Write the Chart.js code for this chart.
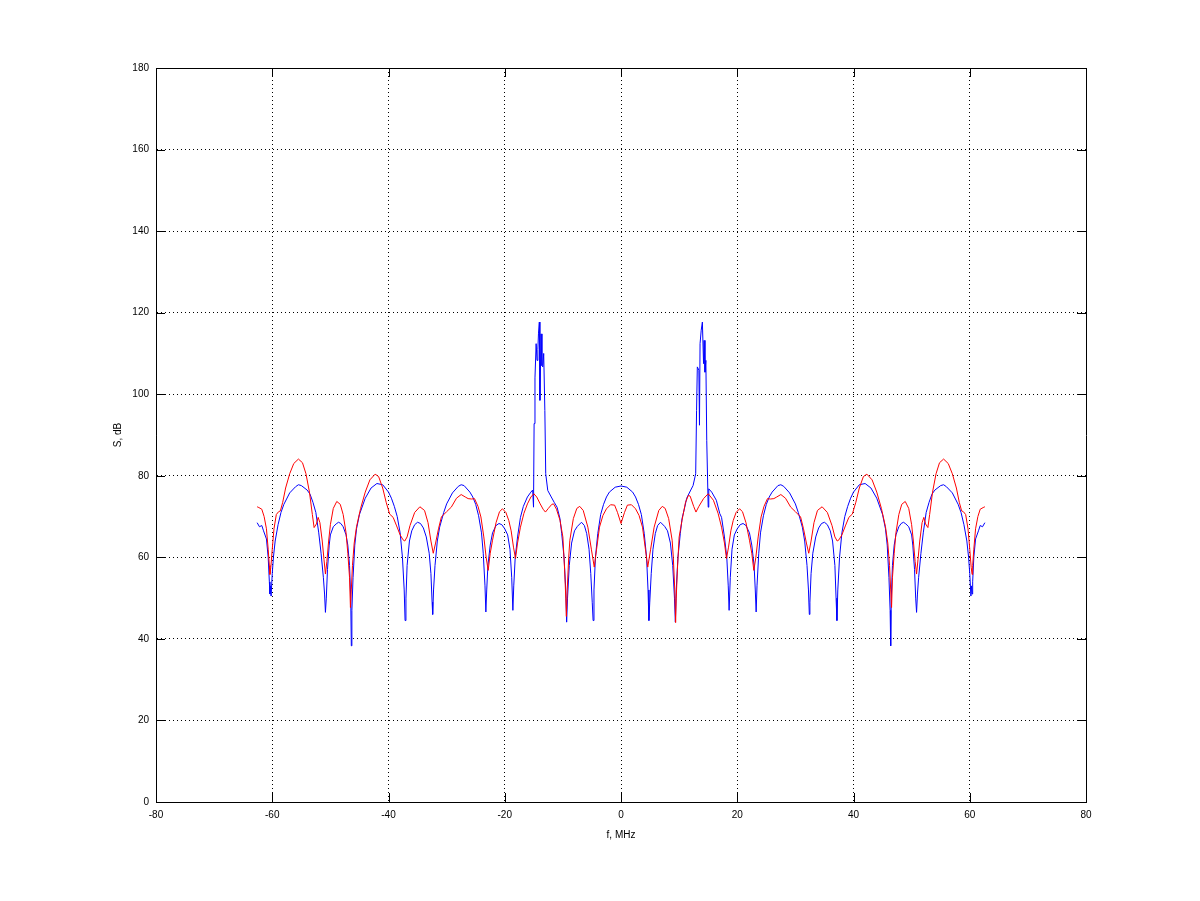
<!DOCTYPE html>
<html>
<head>
<meta charset="utf-8">
<script src="https://cdn.jsdelivr.net/npm/chart.js@4/dist/chart.umd.min.js"></script>
<style>
  html, body { margin: 0; padding: 0; background: #fff; }
  #wrap { width: 1200px; height: 901px; }
</style>
</head>
<body>
<div id="wrap"><canvas id="spectrum"></canvas></div>
<script>
// blue trace (f in MHz, S in dB)
var freqBlue = [-62.6, -62.2, -61.8, -61.5, -61.0, -60.7, -60.5, -60.4, -60.3, -60.2, -60.0, -59.8, -59.5, -59.0, -58.5, -58.0, -57.0, -56.0, -55.5, -55.0, -54.0, -53.5, -53.0, -52.5, -52.0, -51.6, -51.2, -51.0, -50.85, -50.7, -50.5, -50.2, -50.0, -49.5, -49.0, -48.6, -48.2, -47.8, -47.3, -47.0, -46.7, -46.5, -46.4, -46.3, -46.1, -45.8, -45.5, -45.0, -44.0, -43.0, -42.0, -41.0, -40.0, -39.5, -39.0, -38.5, -38.0, -37.6, -37.3, -37.15, -37.0, -36.8, -36.4, -36.0, -35.5, -35.0, -34.5, -34.0, -33.5, -33.0, -32.7, -32.5, -32.4, -32.25, -32.0, -31.6, -31.2, -30.5, -30.0, -29.0, -28.0, -27.5, -27.0, -26.0, -25.5, -25.0, -24.5, -24.0, -23.7, -23.4, -23.25, -23.1, -22.9, -22.5, -22.1, -21.5, -21.0, -20.5, -20.0, -19.5, -19.1, -18.8, -18.6, -18.45, -18.2, -17.8, -17.3, -16.8, -16.1, -15.5, -15.2, -15.05, -14.95, -14.8, -14.6, -14.45, -14.3, -14.2, -14.05, -13.95, -13.75, -13.6, -13.45, -13.3, -13.1, -12.95, -12.6, -12.0, -11.5, -11.0, -10.5, -10.2, -9.8, -9.5, -9.35, -9.2, -8.9, -8.5, -8.0, -7.5, -6.8, -6.3, -5.9, -5.5, -5.2, -4.95, -4.8, -4.65, -4.4, -4.0, -3.5, -3.0, -2.5, -2.0, -1.0, 0,
  1.0, 2.0, 2.5, 3.0, 3.5, 4.0, 4.4, 4.65, 4.8, 4.95, 5.2, 5.5, 5.9, 6.3, 6.8, 7.5, 8.0, 8.5, 8.9, 9.2, 9.35, 9.5, 9.8, 10.2, 10.5, 11.0, 11.3, 12.0, 12.4, 12.85, 13.0, 13.13, 13.4, 13.5, 13.6, 13.8, 14.0, 14.2, 14.3, 14.45, 14.6, 14.75, 15.0, 15.1, 15.6, 16.4, 17.0, 17.3, 17.8, 18.2, 18.45, 18.6, 18.8, 19.1, 19.5, 20.0, 20.5, 21.0, 21.5, 22.1, 22.5, 22.9, 23.1, 23.25, 23.4, 23.7, 24.0, 24.5, 25.0, 25.5, 26.0, 27.0, 27.5, 28.0, 29.0, 30.0, 30.5, 31.2, 31.6, 32.0, 32.25, 32.4, 32.5, 32.7, 33.0, 33.5, 34.0, 34.5, 35.0, 35.5, 36.0, 36.4, 36.8, 37.0, 37.15, 37.3, 37.6, 38.0, 38.5, 39.0, 39.5, 40.0, 41.0, 42.0, 43.0, 44.0, 45.0, 45.5, 45.8, 46.1, 46.3, 46.4, 46.5, 46.7, 47.0, 47.3, 47.8, 48.2, 48.6, 49.0, 49.5, 50.0, 50.2, 50.5, 50.7, 50.85, 51.0, 51.2, 51.6, 52.0, 52.5, 53.0, 53.5, 54.0, 55.0, 55.5, 56.0, 57.0, 58.0, 58.5, 59.0, 59.5, 59.8, 60.0, 60.2, 60.3, 60.4, 60.5, 60.7, 61.0, 61.5, 61.8, 62.2, 62.6];
var sBlue = [68.5, 67.5, 67.8, 66.5, 64.5, 60, 54, 51, 53, 50.5, 56, 60, 64, 68, 71, 73, 75.8, 77.3, 77.8, 77.6, 76.5, 75.5, 73.5, 71, 66, 61, 55, 51, 46.5, 50, 57, 63, 65.5, 67.5, 68.2, 68.6, 68.3, 67.5, 65.5, 63, 58, 50, 38.3, 47, 55, 63, 67, 70.5, 74.5, 77, 78.1, 77.8, 76, 74.5, 72.5, 70, 66, 60, 52, 44.5, 50, 58, 64, 66.5, 68, 68.6, 68.3, 67.2, 65, 61, 56, 49, 46, 52, 58, 64, 67.4, 71, 73.1, 75.8, 77.4, 77.8, 77.6, 76, 74.8, 73, 70.2, 66, 61, 53, 46.6, 52, 58, 63, 66, 67.8, 68.3, 68, 67, 65.5, 62, 55, 47, 53, 60, 65, 69.8, 72.5, 74.8, 76, 76.5, 72.3, 92.8, 104, 112.4, 108.3, 111, 114.8, 117.7, 98.5, 114.8, 107, 106.7, 110, 96, 80.5, 76.4, 74.8, 73.5, 72.3, 69.5, 65.8, 60, 52, 44.1, 50, 58, 63.5, 66.5, 67.6, 68.6, 67.8, 65.8, 62, 56, 49, 44.5, 52, 60, 65.8, 70.5, 73, 74.8, 76, 77.2, 77.5,
  77.2, 76, 74.8, 73, 70.5, 65.8, 60, 52, 44.5, 49, 56, 62, 65.8, 67.8, 68.6, 67.6, 66.5, 63.5, 58, 50, 44.1, 52, 60, 65.8, 69.5, 72.5, 74.5, 76.5, 77.6, 80.5, 96, 106.7, 105.9, 92.4, 112.4, 115.7, 117.7, 107.5, 113.2, 105.4, 108.3, 88.7, 72.3, 76.8, 76, 74, 70.7, 69.8, 65, 60, 53, 47, 55, 62, 65.5, 67, 68, 68.3, 67.8, 66, 63, 58, 52, 46.6, 53, 61, 66, 70.2, 73, 74.8, 76, 77.6, 77.8, 77.4, 75.8, 73.1, 71, 67.4, 64, 58, 52, 46, 49, 56, 61, 65, 67.2, 68.3, 68.6, 68, 66.5, 64, 58, 50, 44.5, 52, 60, 66, 70, 72.5, 74.5, 76, 77.8, 78.1, 77, 74.5, 70.5, 67, 63, 55, 47, 38.3, 50, 58, 63, 65.5, 67.5, 68.3, 68.6, 68.2, 67.5, 65.5, 63, 57, 50, 46.5, 51, 55, 61, 66, 71, 73.5, 75.5, 76.5, 77.6, 77.8, 77.3, 75.8, 73, 71, 68, 64, 60, 56, 50.5, 53, 51, 54, 60, 64.5, 66.5, 67.8, 67.5, 68.5];

// red trace
var freqRed = [-62.6, -62.3, -61.8, -61.4, -61.0, -60.7, -60.5, -60.4, -60.25, -60.0, -59.7, -59.3, -58.9, -58.6, -58.2, -57.7, -57.0, -56.3, -55.5, -54.8, -54.2, -53.6, -53.1, -52.8, -52.4, -52.1, -51.8, -51.4, -51.1, -50.85, -50.6, -50.3, -50.0, -49.5, -48.9, -48.3, -47.8, -47.3, -47.0, -46.7, -46.55, -46.4, -46.2, -45.9, -45.5, -44.8, -44.0, -43.2, -42.3, -41.7, -41.0, -40.4, -39.8, -39.2, -38.6, -38.0, -37.5, -37.2, -36.8, -36.3, -35.5, -34.6, -33.8, -33.2, -32.7, -32.3, -31.9, -31.4, -30.9, -30.0, -29.2, -28.3, -27.5, -26.8, -26.3, -25.7, -25.2, -24.6, -24.1, -23.6, -23.2, -22.85, -22.5, -22.1, -21.5, -20.9, -20.4, -19.8, -19.3, -18.9, -18.5, -18.15, -17.8, -17.3, -16.7, -16.1, -15.5, -15.0, -14.5, -13.9, -13.4, -13.0, -12.5, -11.9, -11.6, -11.1, -10.5, -10.0, -9.7, -9.5, -9.4, -9.25, -9.0, -8.8, -8.2, -7.6, -7.1, -6.5, -5.7, -5.1, -4.6, -4.2, -3.7, -3.1, -2.5, -1.8, -1.1, -0.6, 0,
  0.6, 1.1, 1.8, 2.5, 3.1, 3.7, 4.2, 4.6, 5.1, 5.7, 6.5, 7.1, 7.6, 8.2, 8.8, 9.0, 9.25, 9.4, 9.5, 9.7, 10.0, 10.5, 11.1, 11.6, 11.9, 12.5, 12.9, 13.4, 14.2, 15.0, 15.9, 16.7, 17.3, 17.8, 18.15, 18.5, 18.9, 19.3, 19.8, 20.4, 20.9, 21.5, 22.1, 22.5, 22.85, 23.2, 23.6, 24.1, 24.6, 25.2, 25.7, 26.3, 26.8, 27.5, 28.3, 29.2, 30.0, 30.9, 31.4, 31.9, 32.3, 32.7, 33.2, 33.8, 34.6, 35.5, 36.3, 36.8, 37.2, 37.5, 38.0, 38.6, 39.2, 39.8, 40.4, 41.0, 41.7, 42.3, 43.2, 44.0, 44.8, 45.5, 45.9, 46.2, 46.4, 46.55, 46.7, 47.0, 47.3, 47.8, 48.3, 48.9, 49.5, 50.0, 50.3, 50.6, 50.85, 51.1, 51.4, 51.8, 52.1, 52.4, 52.8, 53.1, 53.6, 54.2, 54.8, 55.5, 56.3, 57.0, 57.7, 58.2, 58.6, 58.9, 59.3, 59.7, 60.0, 60.25, 60.4, 60.5, 60.7, 61.0, 61.4, 61.8, 62.3, 62.6];
var sRed = [72.4, 72.2, 71.8, 70, 67, 62, 58, 55.8, 57.5, 62, 67, 70.5, 71.2, 71.4, 73.5, 77, 80.5, 83, 84.1, 83.2, 80.5, 76, 70.5, 67.3, 68.2, 69.8, 68.5, 64, 59.5, 55.9, 59, 64, 68, 72, 73.7, 73, 70.5, 66, 61, 55, 47.7, 52, 58, 63.5, 67.5, 72, 76, 79, 80.4, 79.8, 77, 73.5, 70.6, 69.8, 67.7, 65.5, 64.3, 64, 65, 67.8, 71, 72.4, 71.5, 68.5, 64, 61, 63.5, 67, 69.9, 71.2, 72.3, 74.5, 75.4, 74.8, 74.4, 74.3, 74.4, 72.5, 69.9, 65, 60, 56.8, 61, 64.2, 68.5, 71.2, 71.9, 71, 69, 66.5, 62.5, 59.7, 63.5, 67.4, 70.8, 73.1, 74.8, 75.6, 74.8, 73.1, 71.8, 71.1, 72, 73, 73.1, 71.8, 69.1, 65, 57, 50, 45.5, 52, 60, 64.2, 69.5, 72, 72.5, 71.5, 67.4, 62, 57.6, 62, 67.4, 70.3, 71.9, 72.9, 72.8, 71, 68.3,
  71, 72.8, 72.9, 71.9, 70.3, 67.4, 62, 57.6, 62, 67.4, 71.5, 72.5, 72, 69.5, 64.2, 60, 52, 44, 50, 57, 65, 69.1, 73.5, 75.2, 75, 72.5, 71.1, 72.5, 74.4, 75.6, 74, 70.8, 67.4, 63.5, 59.7, 62.5, 66.5, 69, 71, 71.9, 71.2, 68.5, 64.2, 61, 56.8, 60, 65, 69.9, 72.5, 74.4, 74.3, 74.4, 74.8, 75.4, 74.5, 72.3, 71.2, 69.9, 67, 63.5, 61, 64, 68.5, 71.5, 72.4, 71, 67.8, 65, 64, 64.3, 65.5, 67.7, 69.8, 70.6, 73.5, 77, 79.8, 80.4, 79, 76, 72, 67.5, 63.5, 58, 52, 47.7, 55, 61, 66, 70.5, 73, 73.7, 72, 68, 64, 59, 55.9, 59.5, 64, 68.5, 69.8, 68.2, 67.3, 70.5, 76, 80.5, 83.2, 84.1, 83, 80.5, 77, 73.5, 71.4, 71.2, 70.5, 67, 62, 57.5, 55.8, 58, 62, 67, 70, 71.8, 72.2, 72.4];

var xTicks = [-80, -60, -40, -20, 0, 20, 40, 60, 80];
var yTicks = [0, 20, 40, 60, 80, 100, 120, 140, 160, 180];

function pts(xs, ys) {
    return xs.map(function (x, i) { return { x: x, y: ys[i] }; });
}

var tickFont = { family: 'Liberation Sans', size: 10 };

// box round the plot and inward tick marks on all four sides
var frame = {
    id: 'frame',
    afterDraw: function (chart) {
        var ctx = chart.ctx, a = chart.chartArea;
        var xs = chart.scales.x, ys = chart.scales.y;
        var L = 9;
        ctx.save();
        ctx.strokeStyle = '#000';
        ctx.lineWidth = 1;
        ctx.beginPath();
        ctx.rect(Math.round(a.left) + 0.5, Math.round(a.top) + 0.5, Math.round(a.right - a.left), Math.round(a.bottom - a.top));
        xTicks.forEach(function (t) {
            var p = Math.round(xs.getPixelForValue(t)) + 0.5;
            ctx.moveTo(p, a.bottom); ctx.lineTo(p, a.bottom - L);
            ctx.moveTo(p, a.top); ctx.lineTo(p, a.top + L);
        });
        yTicks.forEach(function (t) {
            var p = Math.round(ys.getPixelForValue(t)) + 0.5;
            ctx.moveTo(a.left, p); ctx.lineTo(a.left + L, p);
            ctx.moveTo(a.right, p); ctx.lineTo(a.right - L, p);
        });
        ctx.stroke();
        ctx.restore();
    }
};

var ctx = document.getElementById('spectrum').getContext('2d');
var myChart = new Chart(ctx, {
    type: 'line',
    data: {
        datasets: [{
            label: 'red',
            data: pts(freqRed, sRed),
            borderColor: '#ff0000',
            borderWidth: 1,
            pointRadius: 0,
            tension: 0,
            order: 1
        }, {
            label: 'blue',
            data: pts(freqBlue, sBlue),
            borderColor: '#0000ff',
            borderWidth: 1,
            pointRadius: 0,
            tension: 0,
            order: 2
        }]
    },
    options: {
        responsive: true,
        maintainAspectRatio: false,
        animation: false,
        layout: { padding: { left: 98, right: 114, top: 68, bottom: 59 } },
        plugins: { legend: { display: false }, tooltip: { enabled: false } },
        scales: {
            x: {
                type: 'linear',
                min: -80,
                max: 80,
                afterBuildTicks: function (s) { s.ticks = xTicks.map(function (v) { return { value: v }; }); },
                afterFit: function (s) { s.height = 40; s.paddingLeft = 0; s.paddingRight = 0; },
                ticks: { color: '#000', font: tickFont, padding: 7, maxRotation: 0 },
                grid: { color: '#000', lineWidth: 1, drawTicks: false },
                border: { display: true, color: '#000', dash: [1, 3] },
                title: { display: true, text: 'f, MHz', color: '#000', font: tickFont, padding: { top: 0, bottom: 1 } }
            },
            y: {
                type: 'linear',
                min: 0,
                max: 180,
                afterBuildTicks: function (s) { s.ticks = yTicks.map(function (v) { return { value: v }; }); },
                afterFit: function (s) { s.width = 58; s.paddingTop = 0; s.paddingBottom = 0; },
                ticks: { color: '#000', font: tickFont, padding: 7 },
                grid: { color: '#000', lineWidth: 1, drawTicks: false },
                border: { display: true, color: '#000', dash: [1, 3] },
                title: { display: true, text: 'S, dB', color: '#000', font: tickFont, padding: { top: 14, bottom: 0 } }
            }
        }
    },
    plugins: [frame]
});
</script>
</body>
</html>
